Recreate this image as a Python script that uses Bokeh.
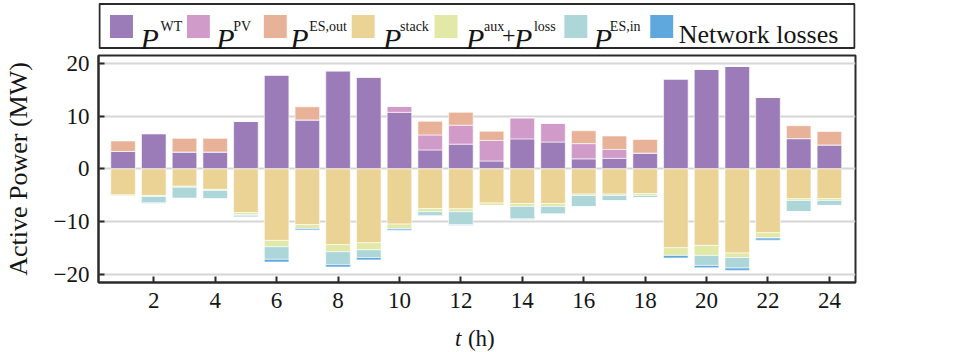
from bokeh.plotting import figure
from bokeh.models import Range1d, FixedTicker, ColumnDataSource
from bokeh.layouts import column
from bokeh.core.properties import value
from bokeh.embed import file_html
from bokeh.resources import INLINE

# ---------------- data ----------------
hours = list(range(1, 25))
p_wt = [3.3, 6.7, 3.2, 3.2, 9.05, 17.85, 9.3, 18.65, 17.45, 10.75, 3.6, 4.7,
        1.5, 5.7, 5.1, 1.9, 2.0, 3.0, 17.1, 18.9, 19.5, 13.6, 5.75, 4.55]
p_pv = [0, 0, 0, 0, 0, 0, 0, 0, 0, 1.1, 2.85, 3.6,
        3.9, 4.0, 3.55, 2.9, 1.7, 0, 0, 0, 0, 0, 0, 0]
p_es_out = [2.0, 0, 2.6, 2.6, 0, 0, 2.5, 0, 0, 0, 2.6, 2.45,
            1.75, 0, 0, 2.45, 2.55, 2.6, 0, 0, 0, 0, 2.45, 2.55]
p_stack = [4.95, 5.05, 3.3, 3.9, 8.3, 13.6, 10.6, 14.4, 14.05, 10.5, 7.55, 7.6,
           6.5, 6.6, 6.6, 4.8, 4.8, 4.7, 15.0, 14.55, 16.0, 12.15, 5.7, 5.65]
p_aux_loss = [0.25, 0.2, 0.2, 0.2, 0.4, 1.2, 0.75, 1.35, 1.35, 0.9, 0.6, 0.55,
              0.5, 0.55, 0.55, 0.25, 0.25, 0.35, 1.45, 1.9, 0.85, 1.0, 0.3, 0.35]
p_es_in = [0, 1.2, 2.1, 1.6, 0.25, 2.4, 0, 2.45, 1.45, 0, 0.7, 2.45,
           0, 2.3, 1.35, 2.15, 1.0, 0.4, 0, 1.9, 2.0, 0, 2.1, 0.95]
p_net_loss = [0, 0.1, 0, 0, 0.15, 0.5, 0.25, 0.45, 0.45, 0.25, 0.1, 0.1,
              0, 0.15, 0.1, 0, 0, 0, 0.5, 0.45, 0.45, 0.4, 0, 0]

x_ticks = [2, 4, 6, 8, 10, 12, 14, 16, 18, 20, 22, 24]
y_ticks = [-20, -10, 0, 10, 20]

legend_sup = ["WT", "PV", "ES,out", "stack", "aux", "ES,in"]
legend_sup2 = "loss"
legend_plain = "Network losses"
y_label = "Active Power (MW)"
x_label_var = "t"
x_label_unit = "(h)"

# ---------------- styles ----------------
FONT = "Liberation Serif"
colors = {
    "wt": "#9b7bb8", "pv": "#d19bc9", "es_out": "#e8b299",
    "stack": "#ebd396", "aux": "#e2e8a6", "es_in": "#acd6d8", "net": "#5fa8de",
}
DARK = "#2a2a2a"
TXT = "#151515"
BL, BR = 97, 25          # shared left/right borders (frames are aligned)
W = 880

src = ColumnDataSource(dict(
    hour=hours, wt=p_wt, pv=p_pv, es_out=p_es_out,
    stack=[-v for v in p_stack], aux=[-v for v in p_aux_loss],
    es_in=[-v for v in p_es_in], net=[-v for v in p_net_loss],
))

xr = Range1d(0.2, 24.85)

# ---------------- main figure ----------------
p = figure(width=W, height=270, x_range=xr, y_range=Range1d(-21.6, 21.55),
           toolbar_location=None, output_backend="svg",
           min_border_left=BL, min_border_right=BR, min_border_top=5, min_border_bottom=38)
p.vbar_stack(["wt", "pv", "es_out"], x="hour", width=0.8, source=src,
             color=[colors["wt"], colors["pv"], colors["es_out"]],
             line_color="white", line_alpha=0.6, line_width=1)
p.vbar_stack(["stack", "aux", "es_in", "net"], x="hour", width=0.8, source=src,
             color=[colors["stack"], colors["aux"], colors["es_in"], colors["net"]],
             line_color="white", line_alpha=0.6, line_width=1)

p.xgrid.visible = False
p.ygrid.grid_line_color = "#d6d6d6"
p.ygrid.grid_line_width = 2
p.outline_line_color = DARK
p.outline_line_width = 2
p.outline_line_alpha = 1

for ax in (p.xaxis[0], p.yaxis[0]):
    ax.axis_line_color = DARK
    ax.axis_line_width = 2
    ax.major_tick_in = 6
    ax.major_tick_out = 0
    ax.major_tick_line_color = DARK
    ax.major_tick_line_width = 2
    ax.minor_tick_line_color = None
    ax.major_label_text_font = FONT
    ax.major_label_text_font_size = "23px"
    ax.major_label_text_color = TXT

p.xaxis.ticker = FixedTicker(ticks=x_ticks)
p.yaxis.ticker = FixedTicker(ticks=y_ticks)
p.xaxis.major_label_standoff = 10
p.yaxis.major_label_standoff = 9
p.yaxis.axis_label = y_label
p.yaxis.axis_label_text_font = FONT
p.yaxis.axis_label_text_font_size = "26px"
p.yaxis.axis_label_text_font_style = "normal"
p.yaxis.axis_label_text_color = TXT
p.yaxis.axis_label_standoff = 18

# ---------------- x-axis title strip ----------------
bt = figure(width=W, height=32, x_range=xr, y_range=Range1d(352, 320),
            toolbar_location=None, output_backend="svg",
            min_border_left=BL, min_border_right=BR, min_border_top=0, min_border_bottom=0,
            x_axis_location=None, y_axis_location=None)
bt.grid.visible = False
bt.outline_line_color = None
bt.text(x=[11.81], y=[338], text=[x_label_var], text_font=value(FONT), text_font_style="italic",
        text_font_size="23px", text_baseline="alphabetic", text_color=TXT)
bt.text(x=[12.23], y=[338], text=[x_label_unit], text_font=value(FONT),
        text_font_size="23px", text_baseline="alphabetic", text_color=TXT)

# ---------------- legend strip (page-pixel coordinates) ----------------
lg = figure(width=W, height=50, x_range=Range1d(BL, W - BR), y_range=Range1d(50, 0),
            toolbar_location=None, output_backend="svg",
            min_border_left=BL, min_border_right=BR, min_border_top=0, min_border_bottom=0,
            x_axis_location=None, y_axis_location=None)
lg.grid.visible = False
lg.outline_line_color = None

lg.quad(left=[98], right=[854], top=[3.5], bottom=[47.5], fill_color=None,
        line_color=DARK, line_width=2)

sw_left = [108, 185, 262, 350, 433, 563, 649]
sw_colors = [colors[k] for k in ("wt", "pv", "es_out", "stack", "aux", "es_in", "net")]
lg.quad(left=sw_left, right=[v + 24 for v in sw_left], top=[14] * 7, bottom=[38] * 7,
        fill_color=sw_colors, line_color="white", line_width=1)

P_x = [139, 215, 289, 382, 465, 513, 593]
lg.text(x=P_x, y=[37.7] * len(P_x), text=["P"] * len(P_x), text_font=value(FONT),
        text_font_style="italic", text_font_size="30px", text_baseline="alphabetic",
        text_color=TXT)
sup_x = [159, 232, 308, 399, 483, 609]
lg.text(x=sup_x, y=[26] * len(sup_x), text=legend_sup, text_font=value(FONT),
        text_font_size="14px", text_baseline="alphabetic", text_color=TXT)
lg.text(x=[533], y=[26], text=[legend_sup2], text_font=value(FONT),
        text_font_size="14px", text_baseline="alphabetic", text_color=TXT)
lg.text(x=[501], y=[35], text=["+"], text_font=value(FONT),
        text_font_size="24px", text_baseline="alphabetic", text_color=TXT)
lg.text(x=[678], y=[34.3], text=[legend_plain], text_font=value(FONT),
        text_font_size="26px", text_baseline="alphabetic", text_color=TXT)

layout = column(lg, p, bt, spacing=0)
open("out.html", "w").write(file_html(layout, INLINE))
